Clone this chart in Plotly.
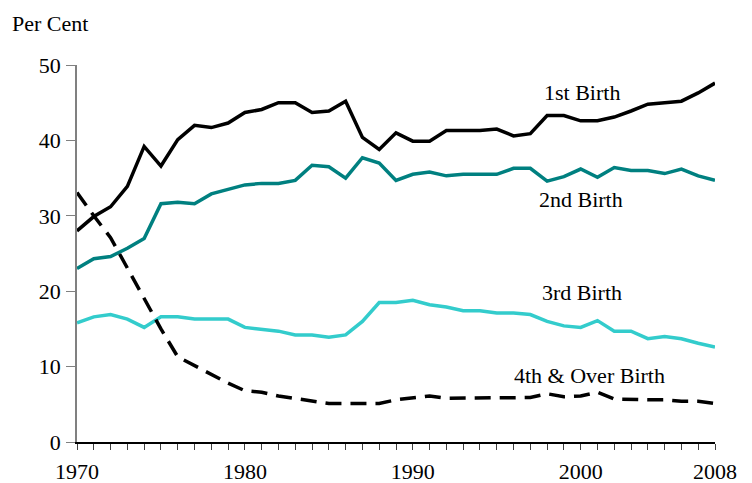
import plotly.graph_objects as go

years = list(range(1970, 2009))

first_birth = [28.0, 29.9, 31.2, 33.9, 39.2, 36.6, 40.1, 42.0, 41.7, 42.3,
               43.7, 44.1, 45.0, 45.0, 43.7, 43.9, 45.2, 40.4, 38.8, 41.0,
               39.9, 39.9, 41.3, 41.3, 41.3, 41.5, 40.6, 40.9, 43.3, 43.3,
               42.6, 42.6, 43.1, 43.9, 44.8, 45.0, 45.2, 46.3, 47.6]

second_birth = [23.0, 24.3, 24.6, 25.7, 27.0, 31.6, 31.8, 31.6, 32.9, 33.5,
                34.1, 34.3, 34.3, 34.7, 36.7, 36.5, 35.0, 37.7, 37.0, 34.7,
                35.5, 35.8, 35.3, 35.5, 35.5, 35.5, 36.3, 36.3, 34.6, 35.2,
                36.2, 35.1, 36.4, 36.0, 36.0, 35.6, 36.2, 35.3, 34.7]

third_birth = [15.8, 16.6, 16.9, 16.3, 15.2, 16.6, 16.6, 16.3, 16.3, 16.3,
               15.2, 15.0, 14.7, 14.2, 14.2, 13.9, 14.2, 16.0, 18.5, 18.5,
               18.8, 18.2, 17.9, 17.4, 17.4, 17.1, 17.1, 16.9, 16.0, 15.4,
               15.2, 16.1, 14.7, 14.7, 13.7, 14.0, 13.7, 13.1, 12.6]

fourth_birth = [33.1, 30.0, 27.1, 23.1, 18.9, 15.0, 11.3, 10.1, 8.9, 7.8,
                6.8, 6.6, 6.1, 5.8, 5.5, 5.1, 5.1, 5.1, 5.1, 5.6,
                5.9, 6.1, 5.8, 5.8, 5.8, 5.8, 5.9, 5.9, 6.4, 6.0,
                6.1, 6.6, 5.7, 5.6, 5.6, 5.6, 5.4, 5.4, 5.1]

x_labels = {1970: "1970", 1980: "1980", 1990: "1990", 2000: "2000", 2008: "2008"}
y_ticks = [0, 10, 20, 30, 40, 50]

series_names = ["1st Birth", "2nd Birth", "3rd Birth", "4th & Over Birth"]
label_pos = [(2000.1, 46.3), (2000.0, 32.2), (2000.1, 19.8), (2000.55, 8.8)]

FONT = "Liberation Serif"
FSIZE = 22

fig = go.Figure()
fig.add_trace(go.Scatter(x=years, y=first_birth, mode="lines", name=series_names[0],
                         line=dict(color="#000000", width=3.5)))
fig.add_trace(go.Scatter(x=years, y=second_birth, mode="lines", name=series_names[1],
                         line=dict(color="#008080", width=3.5)))
fig.add_trace(go.Scatter(x=years, y=third_birth, mode="lines", name=series_names[2],
                         line=dict(color="#33CCCC", width=3.5)))
fig.add_trace(go.Scatter(x=years, y=fourth_birth, mode="lines", name=series_names[3],
                         line=dict(color="#000000", width=3.5, dash="16px,9px")))

for name, (lx, ly) in zip(series_names, label_pos):
    fig.add_annotation(x=lx, y=ly, text=name, showarrow=False,
                       font=dict(family=FONT, size=FSIZE, color="#000000"),
                       xanchor="center", yanchor="middle")

fig.add_annotation(xref="paper", yref="paper", x=-0.105, y=1.111, text="Per Cent",
                   showarrow=False, xanchor="left", yanchor="middle",
                   font=dict(family=FONT, size=FSIZE, color="#000000"))

fig.update_xaxes(range=[1970, 2008], tickmode="array", tickvals=years,
                 ticktext=[x_labels.get(y, "") for y in years],
                 ticks="outside", ticklen=6, tickwidth=1, tickcolor="#404040",
                 showline=True, linecolor="#000000", linewidth=1.5,
                 showgrid=False, zeroline=False, ticklabelstandoff=3,
                 tickfont=dict(family=FONT, size=FSIZE, color="#000000"))
fig.update_yaxes(range=[0, 50], tickmode="array", tickvals=y_ticks,
                 ticks="outside", ticklen=9, tickwidth=1, tickcolor="#808080",
                 showline=True, linecolor="#808080", linewidth=1.5,
                 showgrid=False, zeroline=False, ticklabelstandoff=1,
                 tickfont=dict(family=FONT, size=FSIZE, color="#000000"))

# The page body adds an 8px offset, so the figure is sized to the visible area
fig.update_layout(width=744, height=475, showlegend=False,
                  plot_bgcolor="white", paper_bgcolor="white",
                  font=dict(family=FONT),
                  margin=dict(l=69, r=37, t=57, b=41, autoexpand=False))

fig.write_html("out.html")
